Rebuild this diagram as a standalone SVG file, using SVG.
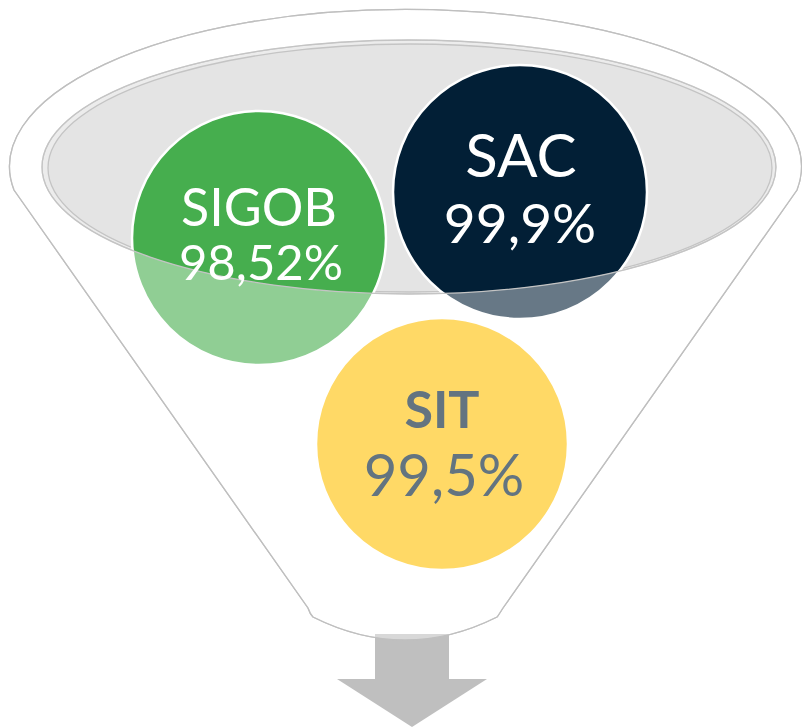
<svg xmlns="http://www.w3.org/2000/svg" width="802" height="728" viewBox="0 0 802 728">
<style>
.rim{fill:none;stroke:#bfbfbf;stroke-width:1.3}
.lbl{font-family:Lato,"Open Sans","Liberation Sans",sans-serif;text-anchor:middle;fill:#ffffff}
.circ{stroke:#ffffff;stroke-width:2.5}
</style>
<defs>
<path id="funnelShape" d="M14,190 A396,157 0 1 1 797,190 L503,608 Q498,616 497,617 Q405,663 313,617 Q310,614 308,608 Z"/>
</defs>
<rect width="802" height="728" fill="#ffffff"/>
<g id="funnel">
<use href="#funnelShape" fill="#ffffff" stroke="#bfbfbf" stroke-width="1.3"/>
<ellipse cx="409" cy="167" rx="367" ry="127" fill="#ececec" stroke="#c8c8c8" stroke-width="1.2"/>
<ellipse cx="410" cy="168" rx="362" ry="124" fill="#e4e4e4" stroke="#c4c4c4" stroke-width="1.3"/>
</g>
<g id="arrow">
<path d="M375,634 H449 V679 H487 L412,727 L337,679 H375 Z" fill="#bfbfbf"/>
</g>
<g id="sigob">
<circle class="circ" cx="259" cy="238" r="127" fill="#46ae4e"/>
</g>
<g id="sac">
<circle class="circ" cx="520" cy="192" r="127" fill="#021f36"/>
</g>
<g id="sit">
<circle class="circ" cx="442" cy="444" r="126" fill="#ffc000"/>
</g>
<g id="funnel-front">
<path d="M14,190 A396,157 0 1 1 797,190 L503,608 Q498,616 497,617 Q405,663 313,617 Q310,614 308,608 Z M42,167 A367,127 0 1 0 776,167 A367,127 0 1 0 42,167 Z" fill="#ffffff" fill-opacity="0.4" fill-rule="evenodd"/>
<use href="#funnelShape" class="rim"/>
<ellipse cx="409" cy="167" rx="367" ry="127" fill="none" stroke="#c4c4c4" stroke-width="1.3"/>
</g>
<g id="labels">
<text class="lbl" x="259" y="226" font-size="52">SIGOB</text>
<text class="lbl" x="261" y="280" font-size="49">98,52%</text>
<text class="lbl" x="521" y="177" font-size="60">SAC</text>
<text class="lbl" x="520" y="243" font-size="55">99,9%</text>
<text class="lbl" x="442" y="428" font-size="52" font-weight="bold" style="fill:#637480">SIT</text>
<text class="lbl" x="444" y="496" font-size="58" style="fill:#637480">99,5%</text>
</g>
</svg>
